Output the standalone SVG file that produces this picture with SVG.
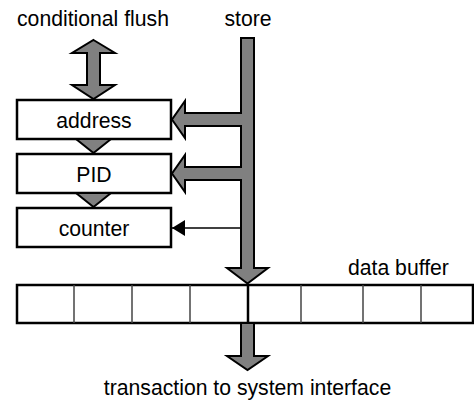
<svg xmlns="http://www.w3.org/2000/svg" width="474" height="403" viewBox="0 0 474 403">
  <style>
    text { font-family: "Liberation Sans", Arial, sans-serif; font-size: 21.2px; fill: #000; }
    .box { fill: #fff; stroke: #000; stroke-width: 2.5; }
    .bus { fill: #808080; stroke: #000; stroke-width: 2; stroke-linejoin: miter; }
    .cell { stroke: #444; stroke-width: 1.5; }
  </style>
  <defs>
    <marker id="head" markerWidth="13" markerHeight="16" refX="13" refY="8" orient="auto" markerUnits="userSpaceOnUse">
      <path d="M0,0 L13,8 L0,16 Z" fill="#000"/>
    </marker>
  </defs>

  <rect width="474" height="403" fill="#fff"/>

  <!-- labels -->
  <text x="17" y="26">conditional flush</text>
  <text x="248" y="26" text-anchor="middle">store</text>
  <text x="348" y="275">data buffer</text>
  <text x="247.5" y="395" text-anchor="middle">transaction to system interface</text>

  <!-- registers -->
  <g id="address">
    <rect class="box" x="17" y="100" width="154" height="39"/>
    <text x="94" y="128" text-anchor="middle">address</text>
  </g>
  <g id="pid">
    <rect class="box" x="17" y="154" width="154" height="39"/>
    <text x="94" y="182" text-anchor="middle">PID</text>
  </g>
  <g id="counter">
    <rect class="box" x="17" y="208" width="154" height="39"/>
    <text x="94" y="236" text-anchor="middle">counter</text>
  </g>

  <!-- data buffer -->
  <g id="data-buffer">
    <rect class="box" x="17" y="285" width="456" height="38"/>
    <line class="cell" x1="74" y1="285" x2="74" y2="323"/>
    <line class="cell" x1="132" y1="285" x2="132" y2="323"/>
    <line class="cell" x1="190" y1="285" x2="190" y2="323"/>
    <line class="cell" x1="301" y1="285" x2="301" y2="323"/>
    <line class="cell" x1="363" y1="285" x2="363" y2="323"/>
    <line class="cell" x1="421" y1="285" x2="421" y2="323"/>
    <line x1="248" y1="285" x2="248" y2="323" stroke="#000" stroke-width="2.5"/>
  </g>

  <g id="connectors">
    <!-- conditional flush, both directions -->
    <polygon class="bus" points="93.5,40 115,53 100,53 100,85 115,85 93.5,99 72,85 87,85 87,53 72,53"/>
    <!-- register chain -->
    <polygon class="bus" points="76,139 111,139 93.5,153"/>
    <polygon class="bus" points="76,193 111,193 93.5,207"/>
    <!-- store bus with branches to address and PID -->
    <polygon class="bus" points="241,38 254,38 254,268 268,268 247.5,283.5 227,268 241,268 241,180 185,180 185,192 172,173.5 185,155 185,167 241,167 241,126 185,126 185,138 172,119.5 185,101 185,113 241,113"/>
    <!-- store to counter -->
    <line x1="241" y1="228" x2="172" y2="228" stroke="#000" stroke-width="1.5" marker-end="url(#head)"/>
    <!-- out to system interface -->
    <polygon class="bus" points="241,323 254,323 254,356 268,356 247.5,370 227,356 241,356"/>
  </g>
</svg>
